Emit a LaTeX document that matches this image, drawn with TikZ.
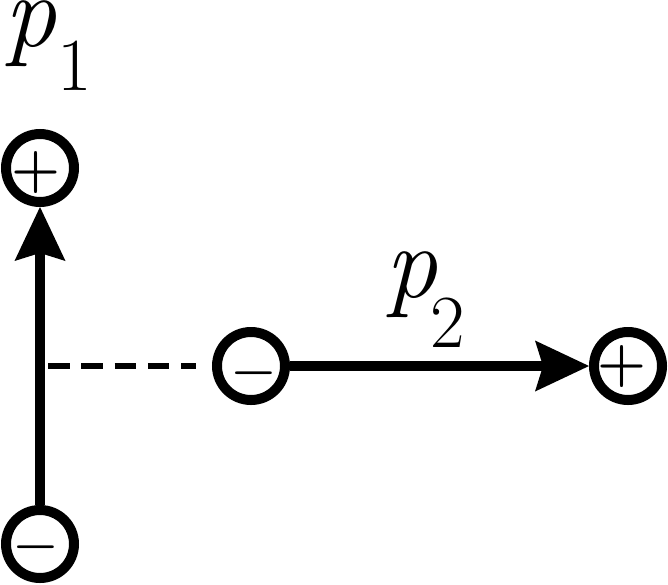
\documentclass[tikz,border=0pt]{standalone}
\usetikzlibrary{arrows.meta}
\tikzset{
  charge/.style={circle, draw, line width=10pt, minimum size=68pt, inner sep=0pt, outer sep=5pt},
  sign/.style={inner sep=0pt, outer sep=0pt, anchor=base},
  dipole/.style={line width=9.5pt, -{Stealth[length=54pt,width=51pt,inset=8pt,line width=0pt]}},
  link/.style={line width=6pt, dash pattern=on 21.5pt off 11.8pt},
  lbl/.style={inner sep=0pt, outer sep=0pt, anchor=base west}
}
\newcommand{\bigplus}{\fontsize{56}{56}\selectfont\bfseries +}
\newcommand{\bigminus}{\fontsize{49}{49}\selectfont\bfseries −}
\newcommand{\lblp}[3]{\fontsize{104}{104}\selectfont\textit{p}\kern#1\raisebox{#2}{\fontsize{75}{75}\selectfont #3}}
\begin{document}
\begin{tikzpicture}[x=1pt, y=-1pt]
\path[use as bounding box] (0,0) rectangle (668,584);
% circles
\node[charge] (t1) at (40,168) {};
\node[charge] (b1) at (40,544) {};
\node[charge] (m2) at (251,366) {};
\node[charge] (r2) at (628,366) {};
% signs (anchor at baseline, bar centre on the math axis)
\node[sign] (st1) at (35.5,186) {\bigplus};
\node[sign] (sb1) at (36,559) {\bigminus};
\node[sign] (sm2) at (254,385) {\bigminus};
\node[sign] (sr2) at (621.5,380) {\bigplus};
% connectors
\draw[dipole] (b1.north) -- (t1.south);
\draw[dipole] (m2.east) -- (r2.west);
\coordinate (dl) at (48,366);
\coordinate (dr) at (196,366);
\draw[link] (dl) -- (dr);
% labels
\node[lbl] (p1) at (5,46) {\lblp{0pt}{-44pt}{1}};
\node[lbl] (p2) at (385,297) {\lblp{-7pt}{-50pt}{2}};
\end{tikzpicture}
\end{document}
